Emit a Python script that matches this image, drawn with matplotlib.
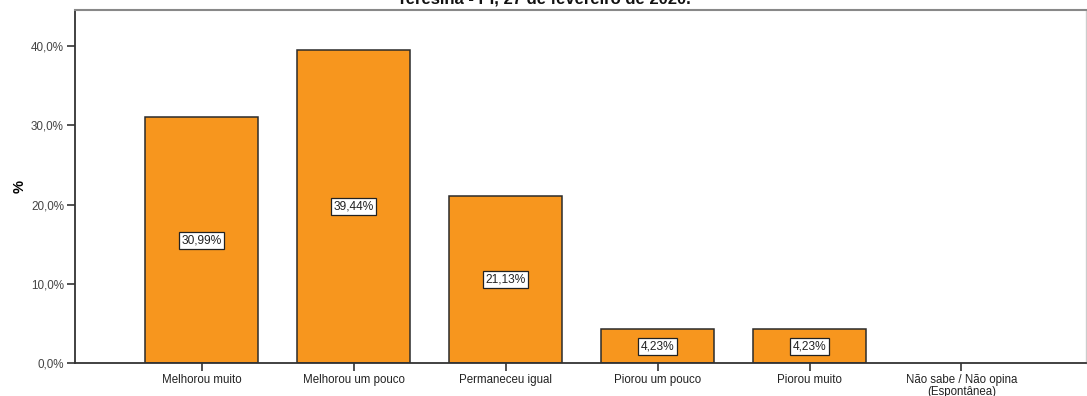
import numpy as np
import matplotlib.pyplot as plt

plt.rcParams['font.family'] = ['Liberation Sans', 'DejaVu Sans']

categorias = ['Melhorou muito', 'Melhorou um pouco', 'Permaneceu igual',
              'Piorou um pouco', 'Piorou muito', 'Não sabe / Não opina\n(Espontânea)']
percentuais = [30.99, 39.44, 21.13, 4.23, 4.23, 0.0]
yticks = [0, 10, 20, 30, 40]

fig = plt.figure(figsize=(10.87, 3.96), dpi=100)
ax = fig.add_axes([75 / 1087, 33 / 396, 1011 / 1087, 353 / 396])

x = np.arange(len(categorias))
# no outline for empty categories
larguras = [1.1 if v > 0 else 0 for v in percentuais]
ax.bar(x, percentuais, width=0.745, color='#F7961E', edgecolor='#2b2b2b', linewidth=larguras, zorder=2)

for xi, v in zip(x, percentuais):
    if v <= 0:
        continue
    ax.text(xi, v / 2, f'{v:.2f}%'.replace('.', ','), ha='center', va='center',
            fontsize=8.6, color='#222222', zorder=3,
            bbox=dict(boxstyle='square,pad=0.2', facecolor='white', edgecolor='#222222', linewidth=0.9))

ax.set_xlim(-0.835, 5.82)
ax.set_ylim(0, 44.55)
ax.set_yticks(yticks)
ax.set_yticklabels([f'{t:.1f}%'.replace('.', ',') for t in yticks], fontsize=8.4, color='#444444')
ax.set_xticks(x)
ax.set_xticklabels(categorias, fontsize=8.3, color='#222222', linespacing=0.95)
ax.tick_params(axis='both', direction='out', length=6, width=1.2, color='#333333', pad=2)
ax.set_ylabel('%', fontsize=10.5, fontweight='bold', labelpad=3)

ax.spines['left'].set_color('#333333')
ax.spines['left'].set_linewidth(1.3)
ax.spines['bottom'].set_color('#333333')
ax.spines['bottom'].set_linewidth(1.3)
ax.spines['top'].set_color('#888888')
ax.spines['top'].set_linewidth(1.5)
ax.spines['right'].set_color('#cccccc')
ax.spines['right'].set_linewidth(1.0)

fig.text(544 / 1087, 1 - 3 / 396, 'Teresina - PI, 27 de fevereiro de 2020.', ha='center', va='baseline',
         fontsize=12, fontweight='bold', color='#111111')

fig.savefig('out.png', dpi=100)
